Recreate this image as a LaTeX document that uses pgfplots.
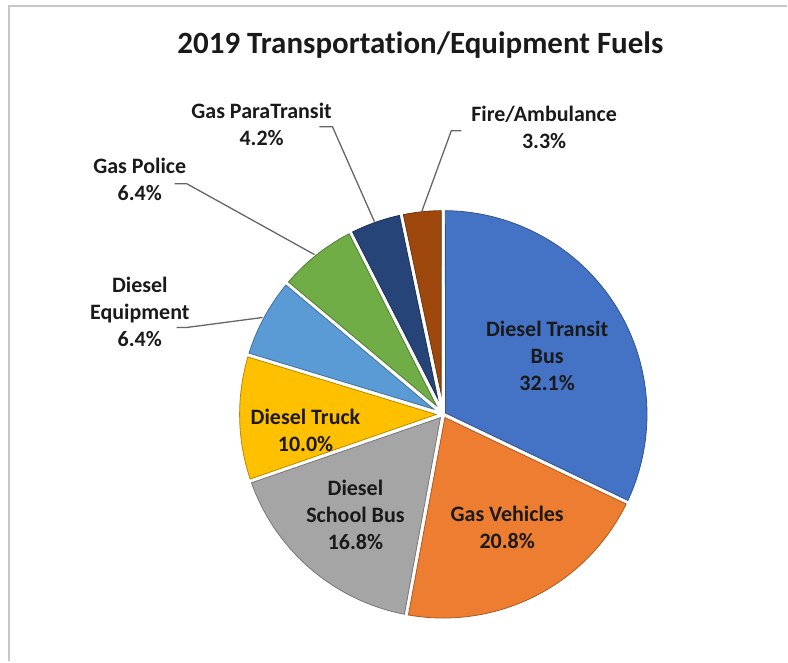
\documentclass[border=0pt]{standalone}
\usepackage{pgfplots}
\pgfplotsset{compat=1.18}
\usepackage{fontspec}
\setmainfont{Carlito}[Ligatures=NoCommon]
\definecolor{c1}{HTML}{4472C4}
\definecolor{c2}{HTML}{ED7D31}
\definecolor{c3}{HTML}{A5A5A5}
\definecolor{c4}{HTML}{FFC000}
\definecolor{c5}{HTML}{5B9BD5}
\definecolor{c6}{HTML}{70AD47}
\definecolor{c7}{HTML}{264478}
\definecolor{c8}{HTML}{9E480E}
\definecolor{txt}{HTML}{1A1A1A}
\definecolor{lead}{HTML}{666666}
\tikzset{lab/.style={text=txt, font=\fontsize{22}{27}\selectfont\bfseries, align=center, inner sep=0pt}}
% #1 = cumulative percent before the slice, #2 = slice percent, #3 = colour
\newcommand{\slice}[3]{%
  \addplot[fill=#3, draw=#3!72!black, line width=0.8pt, domain=90-3.6*#1-3.6*#2+0.56:90-3.6*#1-0.56, samples=90, variable=\t]
  ({444+204*cos(\t)},{247+204*sin(\t)})
  -- ({444+2.2/sin(1.8*#2)*cos(90-3.6*#1-1.8*#2)},{247+2.2/sin(1.8*#2)*sin(90-3.6*#1-1.8*#2)}) -- cycle;
}
\begin{document}
\begin{tikzpicture}
\begin{axis}[
  width=788pt, height=662pt, scale only axis,
  xmin=0, xmax=788, ymin=0, ymax=662,
  hide axis, clip=false,
]
\addplot[draw=none] coordinates {(0,0) (788,662)};
% frame
\addplot[draw=black!22, line width=2.5pt] coordinates {(9,0) (9,656) (788,656)};
% slices
\slice{0}{32.1}{c1}
\slice{32.1}{20.8}{c2}
\slice{52.9}{16.8}{c3}
\slice{69.7}{10.0}{c4}
\slice{79.7}{6.4}{c5}
\slice{86.1}{6.4}{c6}
\slice{92.5}{4.2}{c7}
\slice{96.7}{3.3}{c8}
% leader lines
\addplot[draw=lead, line width=1.3pt] coordinates {(320,535) (333,535) (375,440)};
\addplot[draw=lead, line width=1.3pt] coordinates {(175,478) (187,478) (315,407)};
\addplot[draw=lead, line width=1.3pt] coordinates {(177,334) (187,334) (263,344)};
\addplot[draw=lead, line width=1.3pt] coordinates {(462,531) (452,531) (422,449)};
% title
\node[lab, font=\fontsize{31}{36}\selectfont\bfseries] at (axis cs:421,617) {2019 Transportation/Equipment Fuels};
% labels
\node[lab] at (axis cs:548,306) {Diesel Transit\\Bus\\32.1\%};
\node[lab] at (axis cs:508,134) {Gas Vehicles\\20.8\%};
\node[lab] at (axis cs:356,146) {Diesel\\School Bus\\16.8\%};
\node[lab] at (axis cs:306,231) {Diesel Truck\\10.0\%};
\node[lab] at (axis cs:140,350) {Diesel\\Equipment\\6.4\%};
\node[lab] at (axis cs:140,482) {Gas Police\\6.4\%};
\node[lab] at (axis cs:262,537) {Gas ParaTransit\\4.2\%};
\node[lab] at (axis cs:545,534) {Fire/Ambulance\\3.3\%};
\end{axis}
\end{tikzpicture}
\end{document}
